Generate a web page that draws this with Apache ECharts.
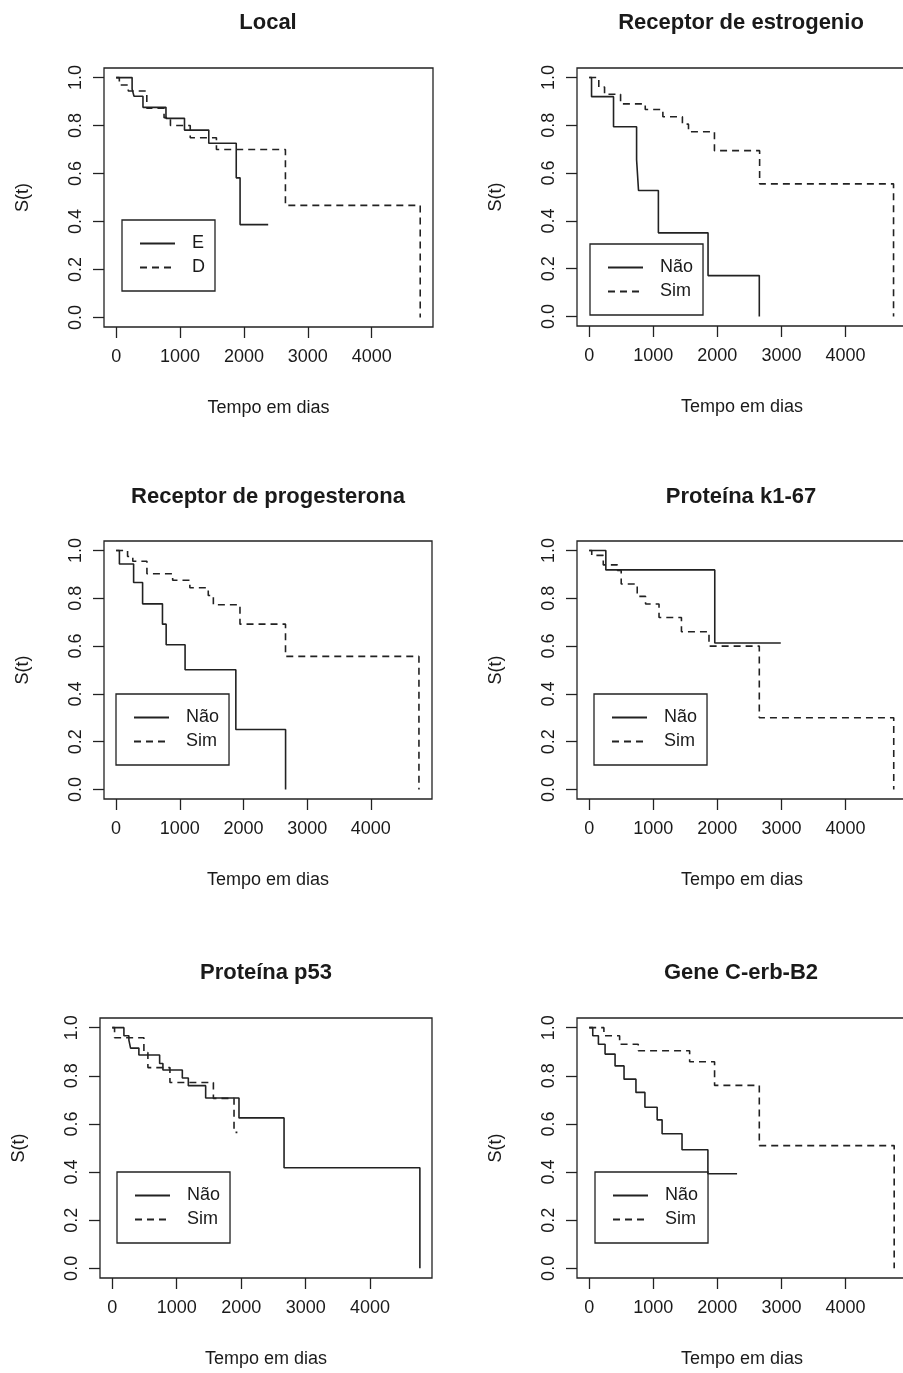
<!DOCTYPE html>
<html><head><meta charset="utf-8">
<script src="https://cdn.jsdelivr.net/npm/echarts@6/dist/echarts.min.js"></script>
<style>html,body{margin:0;padding:0;background:#fff;overflow:hidden}#c{width:903px;height:1373px}</style>
</head><body><div id="c"></div>
<script>
// ---------------- data ----------------
const titles = ["Local", "Receptor de estrogenio", "Receptor de progesterona", "Proteína k1-67", "Proteína p53", "Gene C-erb-B2"];
const xTicks = [0, 1000, 2000, 3000, 4000];
const yTicks = [0, 0.2, 0.4, 0.6, 0.8, 1.0];
const xLabel = "Tempo em dias";
const yLabel = "S(t)";
const groupNames = [["E", "D"], ["Não", "Sim"], ["Não", "Sim"], ["Não", "Sim"], ["Não", "Sim"], ["Não", "Sim"]];

// Local
const localE_t = [0, 250, 280, 420, 780, 1070, 1450, 1880, 1940, 2380];
const localE_s = [1, 0.952, 0.922, 0.876, 0.830, 0.781, 0.726, 0.582, 0.387, 0.387];
const localD_t = [0, 50, 190, 480, 750, 850, 1160, 1570, 2650, 4760];
const localD_s = [1, 0.969, 0.944, 0.872, 0.833, 0.800, 0.749, 0.700, 0.467, 0];
// Receptor de estrogenio
const estroN_t = [0, 37, 380, 740, 770, 1080, 1855, 2655];
const estroN_s = [1, 0.92, 0.794, 0.656, 0.527, 0.35, 0.171, 0];
const estroS_t = [0, 150, 240, 490, 875, 1150, 1455, 1550, 1955, 2660, 4750];
const estroS_s = [1, 0.96, 0.93, 0.89, 0.866, 0.836, 0.805, 0.773, 0.694, 0.555, 0];
// Receptor de progesterona
const progN_t = [0, 52, 275, 416, 728, 786, 1083, 1880, 2661];
const progN_s = [1, 0.944, 0.866, 0.777, 0.692, 0.606, 0.501, 0.251, 0];
const progS_t = [0, 180, 262, 484, 888, 1158, 1447, 1527, 1945, 2660, 4755];
const progS_s = [1, 0.975, 0.955, 0.903, 0.876, 0.844, 0.812, 0.773, 0.692, 0.557, 0];
// Proteína k1-67
const ki67N_t = [0, 260, 1960, 2990];
const ki67N_s = [1, 0.919, 0.613, 0.613];
const ki67S_t = [0, 40, 220, 440, 500, 750, 880, 1090, 1440, 1870, 2655, 4753];
const ki67S_s = [1, 0.98, 0.94, 0.917, 0.86, 0.808, 0.776, 0.72, 0.66, 0.60, 0.30, 0];
// Proteína p53
const p53N_t = [0, 181, 258, 284, 413, 735, 786, 1087, 1180, 1449, 1966, 2665, 4772];
const p53N_s = [1, 0.966, 0.948, 0.915, 0.886, 0.851, 0.824, 0.791, 0.759, 0.708, 0.625, 0.418, 0];
const p53S_t = [0, 36, 491, 553, 895, 1569, 1889, 1941];
const p53S_s = [1, 0.958, 0.897, 0.834, 0.772, 0.706, 0.565, 0.565];
// Gene C-erb-B2
const cerbN_t = [0, 56, 144, 248, 404, 544, 730, 870, 1061, 1138, 1449, 1853, 2308];
const cerbN_s = [1, 0.966, 0.931, 0.89, 0.841, 0.786, 0.731, 0.669, 0.617, 0.559, 0.493, 0.393, 0.393];
const cerbS_t = [0, 230, 475, 766, 1568, 1957, 2655, 4760];
const cerbS_s = [1, 0.966, 0.931, 0.904, 0.858, 0.76, 0.51, 0];

const curves = [
  [[localE_t, localE_s], [localD_t, localD_s]],
  [[estroN_t, estroN_s], [estroS_t, estroS_s]],
  [[progN_t, progN_s], [progS_t, progS_s]],
  [[ki67N_t, ki67N_s], [ki67S_t, ki67S_s]],
  [[p53N_t, p53N_s], [p53S_t, p53S_s]],
  [[cerbN_t, cerbN_s], [cerbS_t, cerbS_s]]
];

// ---------------- layout ----------------
// right-column panels continue just past the picture's right edge (as in the source image)
const grids = [
  {left: 104, top: 68, width: 329, height: 259},
  {left: 577, top: 68, width: 330, height: 258},
  {left: 104, top: 541, width: 328, height: 258},
  {left: 577, top: 541, width: 330, height: 258},
  {left: 100, top: 1018, width: 332, height: 260},
  {left: 577, top: 1018, width: 330, height: 260}
];
const titlePos = [[268, 12], [741, 12], [268, 486], [741, 486], [266, 962], [741, 962]];
const legendPos = [[122, 220], [590, 244], [116, 694], [594, 694], [117, 1172], [595, 1172]];

const INK = '#1a1a1a';
const FONT = 'Liberation Sans, Arial, sans-serif';

const option = {
  animation: false,
  backgroundColor: '#fff',
  textStyle: {fontFamily: FONT, color: INK},
  title: titles.map((t, i) => ({
    text: t, left: titlePos[i][0], top: titlePos[i][1], textAlign: 'center', padding: 0,
    textStyle: {fontFamily: FONT, fontSize: 22, fontWeight: 'bold', color: INK}
  })),
  grid: grids.map(g => Object.assign({show: true, borderColor: '#222', borderWidth: 1.3, backgroundColor: 'transparent',
    containLabel: false, outerBoundsMode: 'none'}, g)),
  xAxis: grids.map((g, i) => ({
    type: 'value', gridIndex: i, min: -190, max: 4960,
    name: xLabel, nameLocation: 'middle', nameGap: 72,
    nameTextStyle: {fontFamily: FONT, fontSize: 18, color: INK},
    axisLine: {show: false, onZero: false},
    splitLine: {show: false},
    axisTick: {show: true, inside: false, length: 11, customValues: xTicks, lineStyle: {color: '#222', width: 1.3}},
    axisLabel: {show: true, customValues: xTicks, margin: 21, fontSize: 18, color: INK, fontFamily: FONT,
      formatter: v => String(v)}
  })),
  yAxis: grids.map((g, i) => ({
    type: 'value', gridIndex: i, min: -0.04, max: 1.04,
    name: yLabel, nameLocation: 'middle', nameGap: 72, nameRotate: 90,
    nameTextStyle: {fontFamily: FONT, fontSize: 18, color: INK},
    axisLine: {show: false, onZero: false},
    splitLine: {show: false},
    axisTick: {show: true, inside: false, length: 11, customValues: yTicks, lineStyle: {color: '#222', width: 1.3}},
    axisLabel: {show: true, customValues: yTicks, margin: 19, rotate: 90, fontSize: 18, color: INK, fontFamily: FONT,
      formatter: v => Number(v).toFixed(1)}
  })),
  legend: groupNames.map((names, i) => ({
    data: names, left: legendPos[i][0], top: legendPos[i][1], orient: 'vertical',
    itemWidth: 35, itemHeight: 18, itemGap: 6, padding: [14.5, 10, 14.5, 17],
    borderColor: '#222', borderWidth: 1.3, borderRadius: 0, selectedMode: false,
    itemStyle: {opacity: 0, color: 'transparent', borderWidth: 0},
    textStyle: {fontFamily: FONT, fontSize: 18, color: INK, padding: [0, 0, 0, 12]}
  })),
  series: []
};

curves.forEach((pair, i) => {
  pair.forEach((c, k) => {
    const [ts, ss] = c;
    option.series.push({
      type: 'line', name: groupNames[i][k], xAxisIndex: i, yAxisIndex: i,
      step: 'end', symbol: 'none', showSymbol: false,
      data: ts.map((t, j) => [t, ss[j]]),
      lineStyle: {color: '#222', width: 1.6, type: k === 0 ? 'solid' : [7, 5]},
      itemStyle: {color: '#222'}
    });
  });
});

const chart = echarts.init(document.getElementById('c'), null, {renderer: 'canvas'});
chart.setOption(option);
</script>
</body></html>
